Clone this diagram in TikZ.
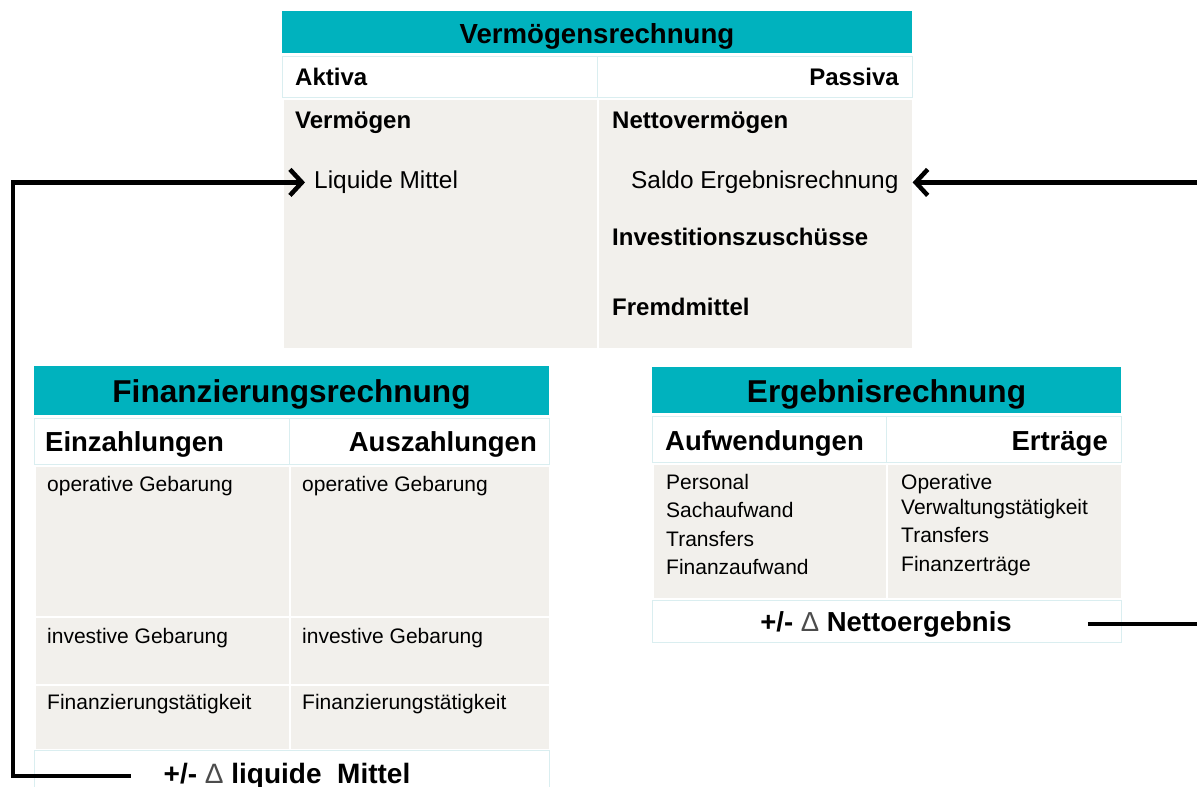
\documentclass[tikz,border=0pt]{standalone}
\usepackage{fontspec}
\setmainfont{Liberation Sans}
\usetikzlibrary{arrows.meta,positioning}
\definecolor{headteal}{RGB}{0,178,190}
\definecolor{cellgray}{RGB}{242,240,236}
\definecolor{rowline}{RGB}{218,238,240}

\begin{document}
\begin{tikzpicture}[
  x=1pt, y=-1pt,
  head/.style={fill=headteal, draw=none, anchor=north west, inner sep=0},
  labrow/.style={fill=white, draw=rowline, line width=1pt, anchor=north west, inner sep=0},
  cell/.style={fill=cellgray, draw=white, line width=2pt, anchor=north west, inner sep=0},
  vtitle/.style={font=\bfseries\fontsize{27.6}{30}\selectfont, inner sep=0, anchor=base},
  btitle/.style={font=\bfseries\fontsize{31.6}{34}\selectfont, inner sep=0, anchor=base},
  tlab/.style={font=\bfseries\fontsize{24}{28}\selectfont, inner sep=0, anchor=base west},
  ttxt/.style={font=\fontsize{24.4}{28}\selectfont, inner sep=0, anchor=base west},
  blab/.style={font=\bfseries\fontsize{27.5}{30}\selectfont, inner sep=0, anchor=base west},
  btxt/.style={font=\fontsize{21}{24}\selectfont, inner sep=0, anchor=base west},
  delta/.style={font=\bfseries\fontsize{28}{30}\selectfont, inner sep=0, anchor=base},
  flow/.style={line width=4.5pt, -{Straight Barb[length=12pt,width=26pt]}}
]
\useasboundingbox (0,0) rectangle (1197,787);

% Vermoegensrechnung
\node[head, minimum width=630pt, minimum height=42pt] (vhead) at (282,11) {};
\node[vtitle] (vtitle) at (597,43) {Vermögensrechnung};
\node[labrow, minimum width=315pt, minimum height=41pt] (vrowA) at (282,56) {};
\node[labrow, minimum width=315pt, minimum height=41pt] (vrowP) at (597,56) {};
\node[cell, minimum width=315pt, minimum height=250pt] (vbodyA) at (282,98) {};
\node[cell, minimum width=315pt, minimum height=250pt] (vbodyP) at (597,98) {};
\node[tlab] (aktiva) at (295,85.6) {Aktiva};
\node[tlab, anchor=base east] (passiva) at (899,85.6) {Passiva};
\node[tlab] (verm) at (295,128.6) {Vermögen};
\node[tlab] (netto) at (612,128.6) {Nettovermögen};
\node[ttxt] (liq) at (314,188.7) {Liquide Mittel};
\node[ttxt] (saldo) at (631,188.7) {Saldo Ergebnisrechnung};
\node[tlab] (invest) at (612,245.6) {Investitionszuschüsse};
\node[tlab] (fremd) at (612,315.6) {Fremdmittel};

% Finanzierungsrechnung
\node[head, minimum width=515pt, minimum height=49pt] (fhead) at (34,366) {};
\node[btitle] (ftitle) at (291.5,402) {Finanzierungsrechnung};
\node[labrow, minimum width=255pt, minimum height=46pt] (frowE) at (34,418) {};
\node[labrow, minimum width=260pt, minimum height=46pt] (frowA) at (289,418) {};
\node[cell, minimum width=255pt, minimum height=151pt] (fop1) at (34,465) {};
\node[cell, minimum width=260pt, minimum height=151pt] (fop2) at (289,465) {};
\node[cell, minimum width=255pt, minimum height=68pt] (finv1) at (34,616) {};
\node[cell, minimum width=260pt, minimum height=68pt] (finv2) at (289,616) {};
\node[cell, minimum width=255pt, minimum height=65pt] (ffin1) at (34,684) {};
\node[cell, minimum width=260pt, minimum height=65pt] (ffin2) at (289,684) {};
\node[labrow, minimum width=515pt, minimum height=42pt] (fsum) at (34,750) {};
\node[blab] (ein) at (45,451) {Einzahlungen};
\node[blab, anchor=base east] (aus) at (537,451) {Auszahlungen};
\node[btxt] (opE) at (47,491.5) {operative Gebarung};
\node[btxt] (opA) at (302,491.5) {operative Gebarung};
\node[btxt] (invE) at (47,643.5) {investive Gebarung};
\node[btxt] (invA) at (302,643.5) {investive Gebarung};
\node[btxt] (finE) at (47,709.5) {Finanzierungstätigkeit};
\node[btxt] (finA) at (302,709.5) {Finanzierungstätigkeit};
\node[delta, font=\bfseries\fontsize{28}{30}\selectfont] (dliq) at (287,783)
  {+/- {\mdseries\color{black!70}Δ} liquide\ \ Mittel};

% Ergebnisrechnung
\node[head, minimum width=469pt, minimum height=46pt] (ehead) at (652,367) {};
\node[btitle] (etitle) at (886.5,402) {Ergebnisrechnung};
\node[labrow, minimum width=234pt, minimum height=46pt] (erowA) at (652,416) {};
\node[labrow, minimum width=235pt, minimum height=46pt] (erowE) at (886,416) {};
\node[cell, minimum width=234pt, minimum height=135pt] (ebodyA) at (652,463) {};
\node[cell, minimum width=235pt, minimum height=135pt] (ebodyE) at (886,463) {};
\node[labrow, minimum width=469pt, minimum height=42pt] (esum) at (652,600) {};
\node[blab] (aufw) at (665,450) {Aufwendungen};
\node[blab, anchor=base east] (ertr) at (1108,450) {Erträge};
\node[btxt] (pers) at (666,489.5) {Personal};
\node[btxt] (sach) at (666,517.5) {Sachaufwand};
\node[btxt] (trA) at (666,546.5) {Transfers};
\node[btxt] (finaufw) at (666,574.5) {Finanzaufwand};
\node[btxt] (oper) at (901,489.5) {Operative};
\node[btxt] (verw) at (901,514.5) {Verwaltungstätigkeit};
\node[btxt] (trE) at (901,542.5) {Transfers};
\node[btxt] (finertr) at (901,571.5) {Finanzerträge};
\node[delta, font=\bfseries\fontsize{27.5}{30}\selectfont] (dnet) at (886,631)
  {+/- {\mdseries\color{black!70}Δ} Nettoergebnis};

% connectors
\coordinate (lbend) at (13,0);
\coordinate (rbend) at (1215,0);
\draw[flow, shorten <=33pt, shorten >=9pt] (dliq.west) -- (lbend |- dliq.west) |- (liq.west);
\draw[flow, shorten <=76pt, shorten >=14pt] (dnet.east) -- (rbend |- dnet.east) |- (saldo.east);

\end{tikzpicture}
\end{document}
